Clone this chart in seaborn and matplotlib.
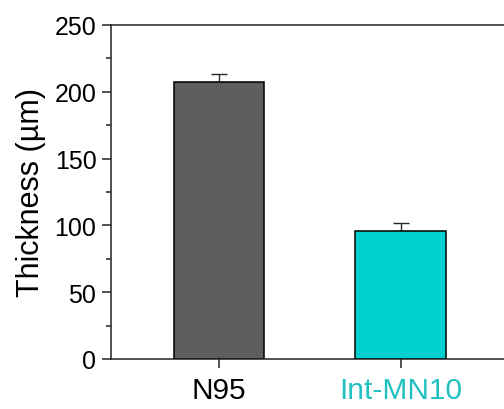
import matplotlib
matplotlib.use("Agg")
import matplotlib.pyplot as plt
from matplotlib.ticker import MultipleLocator
import seaborn as sns
import pandas as pd

samples = ["N95", "Int-MN10"]
thickness = [207, 96]
thickness_err = [6, 6]
bar_colors = ["#5e5e5e", "#00d0d0"]
label_colors = ["#000000", "#1fc0c0"]

sns.set_style("ticks")
plt.rcParams["font.family"] = ["Liberation Sans", "DejaVu Sans"]
plt.rcParams["text.color"] = "black"
plt.rcParams["axes.labelcolor"] = "black"
plt.rcParams["xtick.color"] = "black"
plt.rcParams["ytick.color"] = "black"

df = pd.DataFrame({"sample": samples, "thickness": thickness})

fig = plt.figure(figsize=(5.04, 4.10), dpi=100)
ax = fig.add_axes([0.2202, 0.122, 0.789, 0.8146])

sns.barplot(data=df, x="sample", y="thickness", hue="sample",
            palette=bar_colors, saturation=1, edgecolor="black",
            linewidth=1.1, width=0.5, legend=False, ax=ax, zorder=2)

ax.errorbar(range(len(samples)), thickness,
            yerr=[[0] * len(samples), thickness_err],
            fmt="none", ecolor="#2a2a2a", elinewidth=1.0,
            capsize=6, capthick=1.0, zorder=1)

ax.set_xlim(-0.595, 1.595)
ax.set_ylim(0, 250)
ax.yaxis.set_major_locator(MultipleLocator(50))
ax.yaxis.set_minor_locator(MultipleLocator(25))

ax.set_xlabel("")
ax.set_ylabel("Thickness (µm)", fontsize=22, labelpad=6, color="black")

for side in ["left", "bottom", "top", "right"]:
    ax.spines[side].set_visible(True)
    ax.spines[side].set_linewidth(1.1)
    ax.spines[side].set_color("#222222")

ax.tick_params(axis="y", which="major", direction="out", length=6.5,
               width=1.1, labelsize=18, pad=4, color="#222222",
               labelcolor="black")
ax.tick_params(axis="y", which="minor", direction="out", length=3.4,
               width=1.1, color="#222222")
ax.tick_params(axis="x", which="major", direction="out", length=6.5,
               width=1.1, labelsize=21.5, pad=6, color="#222222")
ax.tick_params(top=False, right=False, which="both")

for lbl, col in zip(ax.get_xticklabels(), label_colors):
    lbl.set_color(col)

fig.savefig("out.png", dpi=100)
